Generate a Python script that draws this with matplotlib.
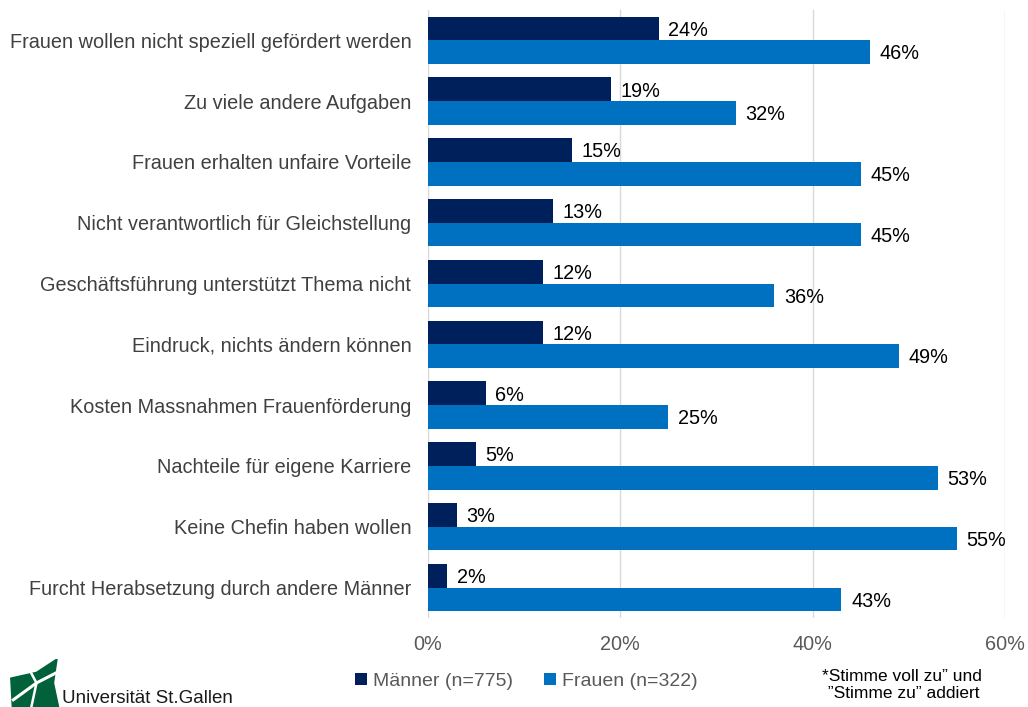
import numpy as np
import matplotlib.pyplot as plt
from matplotlib.patches import Polygon

plt.rcParams['font.family'] = ['Liberation Sans', 'DejaVu Sans']

categories = [
    "Frauen wollen nicht speziell gefördert werden",
    "Zu viele andere Aufgaben",
    "Frauen erhalten unfaire Vorteile",
    "Nicht verantwortlich für Gleichstellung",
    "Geschäftsführung unterstützt Thema nicht",
    "Eindruck, nichts ändern können",
    "Kosten Massnahmen Frauenförderung",
    "Nachteile für eigene Karriere",
    "Keine Chefin haben wollen",
    "Furcht Herabsetzung durch andere Männer",
]
maenner = [24, 19, 15, 13, 12, 12, 6, 5, 3, 2]
frauen = [46, 32, 45, 45, 36, 49, 25, 53, 55, 43]
series_names = ["Männer (n=775)", "Frauen (n=322)"]
xticks = [0, 20, 40, 60]

dark = '#00205B'
light = '#0070C0'

fig = plt.figure(figsize=(10.28, 7.07), dpi=100)
ax = fig.add_axes([0.4163, 0.126, 0.5613, 0.86])

y = np.arange(len(categories))
h = 0.39
b1 = ax.barh(y - h / 2, maenner, height=h, color=dark, label=series_names[0])
b2 = ax.barh(y + h / 2, frauen, height=h, color=light, label=series_names[1])

for bars, vals in ((b1, maenner), (b2, frauen)):
    for bar, v in zip(bars, vals):
        ax.text(bar.get_width() + 1.0, bar.get_y() + bar.get_height() / 2 + 0.03,
                f"{v}%", va='center', ha='left', fontsize=14.3, color='black')

ax.set_ylim(len(categories) - 0.5, -0.5)
ax.set_xlim(0, 60)
ax.set_yticks(y)
ax.set_yticklabels(categories, fontsize=14.3, color='#404040')
ax.set_xticks(xticks)
ax.set_xticklabels([f"{t}%" for t in xticks], fontsize=14.3, color='#595959')
ax.tick_params(axis='both', length=0)
ax.tick_params(axis='y', pad=12)
ax.tick_params(axis='x', pad=12)
ax.xaxis.grid(True, color='#D9D9D9', linewidth=1)
ax.set_axisbelow(True)
for s in ax.spines.values():
    s.set_visible(False)

leg = fig.legend(handles=[b1, b2], loc='center', bbox_to_anchor=(0.512, 0.036),
                 ncol=2, frameon=False, fontsize=14, handlelength=0.6,
                 handleheight=0.6, handletextpad=0.3, columnspacing=1.6)
for t in leg.get_texts():
    t.set_color('#595959')

fig.text(0.877, 0.031, "*Stimme voll zu\u201d und\n \u201dStimme zu\u201d addiert",
         ha='center', va='center', fontsize=12.5, color='black', linespacing=1.2)

# logo
lax = fig.add_axes([0.008, 0.0, 0.05, 0.068])
lax.set_xlim(0, 1)
lax.set_ylim(0, 1)
lax.axis('off')
green = '#00613A'
lax.add_patch(Polygon([[0.05, 0.6], [0.55, 0.72], [0.95, 1.0], [0.88, 0.5],
                       [0.98, 0.0], [0.08, 0.0]], closed=True, color=green))
lax.plot([0.1, 0.55, 0.95], [0.15, 0.5, 0.72], color='white', lw=2.2)
lax.plot([0.35, 0.55, 0.45], [0.9, 0.5, 0.0], color='white', lw=1.8)
fig.text(0.06, 0.0, "Universität St.Gallen", fontsize=13.5, color='#1a1a1a',
         ha='left', va='bottom')

fig.savefig('out.png', dpi=100)
